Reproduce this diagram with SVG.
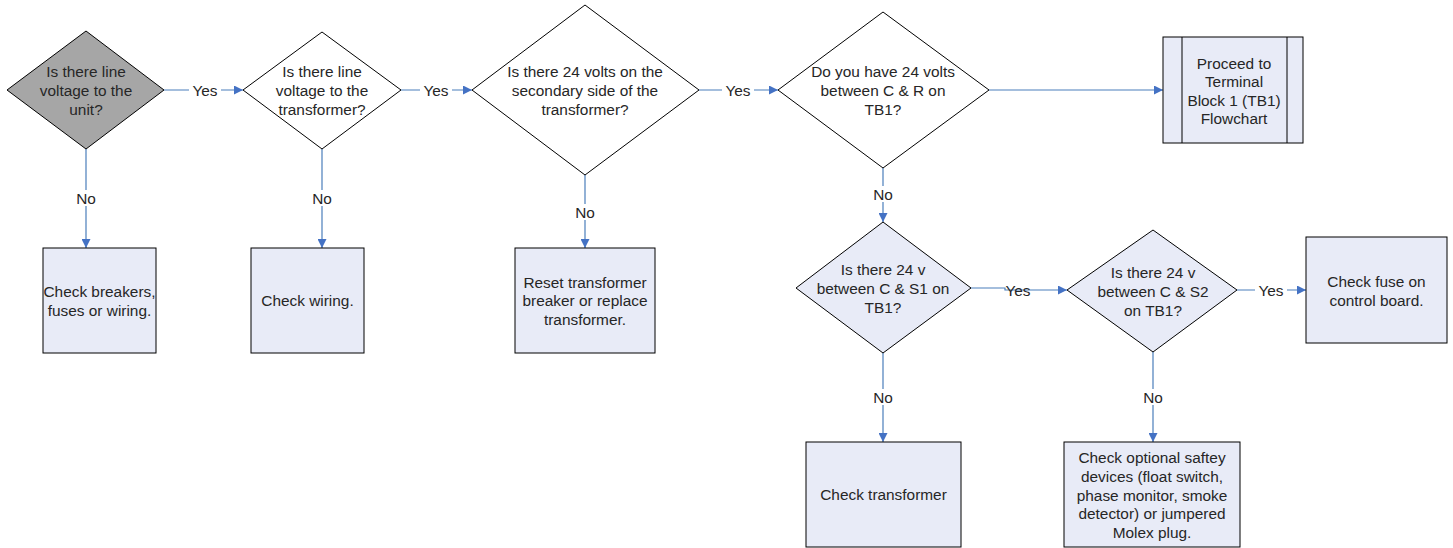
<svg xmlns="http://www.w3.org/2000/svg" width="1453" height="548" viewBox="0 0 1453 548">
<style>
.sh{stroke:#000;stroke-width:1}
.w{fill:#fff}.g{fill:#a6a6a6}.b{fill:#e8ebf7}
text{font-family:"Liberation Sans",Arial,sans-serif;font-size:15.4px;fill:#262626;text-anchor:middle;dominant-baseline:central}
.c{fill:none;stroke:#4a7ebb;stroke-width:1.2}
.lb{fill:#fff}
</style>
<defs>
<marker id="ah" viewBox="0 0 10 10" refX="10" refY="5" markerWidth="10" markerHeight="9" markerUnits="userSpaceOnUse" orient="auto">
<path d="M0,0 L10,5 L0,10 z" fill="#4472c4"/>
</marker>
</defs>
<g id="connectors">
<path class="c" d="M164,90 H243" marker-end="url(#ah)"/>
<path class="c" d="M401,90 H472" marker-end="url(#ah)"/>
<path class="c" d="M699,90 H778" marker-end="url(#ah)"/>
<path class="c" d="M989,90 H1163" marker-end="url(#ah)"/>
<path class="c" d="M86,149 V248" marker-end="url(#ah)"/>
<path class="c" d="M322,149 V248" marker-end="url(#ah)"/>
<path class="c" d="M585,175 V248" marker-end="url(#ah)"/>
<path class="c" d="M883,168 V222" marker-end="url(#ah)"/>
<path class="c" d="M971,288 H1005 V290 H1067" marker-end="url(#ah)"/>
<path class="c" d="M1237,290 H1306" marker-end="url(#ah)"/>
<path class="c" d="M883,353 V442" marker-end="url(#ah)"/>
<path class="c" d="M1153,352 V442" marker-end="url(#ah)"/>
<rect class="lb" x="189" y="82" width="32" height="16"/><text x="205" y="90">Yes</text>
<rect class="lb" x="420" y="82" width="32" height="16"/><text x="436" y="90">Yes</text>
<rect class="lb" x="722" y="82" width="32" height="16"/><text x="738" y="90">Yes</text>
<text x="1018" y="290">Yes</text>
<rect class="lb" x="1255" y="282" width="32" height="16"/><text x="1271" y="290">Yes</text>
<rect class="lb" x="75" y="190" width="22" height="16"/><text x="86" y="198">No</text>
<rect class="lb" x="311" y="190" width="22" height="16"/><text x="322" y="198">No</text>
<rect class="lb" x="574" y="204" width="22" height="16"/><text x="585" y="212">No</text>
<rect class="lb" x="872" y="186" width="22" height="16"/><text x="883" y="194">No</text>
<rect class="lb" x="872" y="389" width="22" height="16"/><text x="883" y="397">No</text>
<rect class="lb" x="1142" y="389" width="22" height="16"/><text x="1153" y="397">No</text>
</g>
<g id="d1">
<polygon class="sh g" points="86,31 164,90 86,149 7,90"/>
<text x="86" y="71">Is there line</text><text x="86" y="90">voltage to the</text><text x="86" y="109">unit?</text>
</g>
<g id="d2">
<polygon class="sh w" points="322,32 401,90 322,149 243,90"/>
<text x="322" y="71">Is there line</text><text x="322" y="90">voltage to the</text><text x="322" y="109">transformer?</text>
</g>
<g id="d3">
<polygon class="sh w" points="585,5 699,90 585,175 472,90"/>
<text x="585" y="71">Is there 24 volts on the</text><text x="585" y="90">secondary side of the</text><text x="585" y="109">transformer?</text>
</g>
<g id="d4">
<polygon class="sh w" points="883,12 989,90 883,168 778,90"/>
<text x="883" y="71">Do you have 24 volts</text><text x="883" y="90">between C &amp; R on</text><text x="883" y="109">TB1?</text>
</g>
<g id="p1">
<rect class="sh b" x="1163" y="37" width="140" height="106"/>
<line class="sh" x1="1182" y1="37" x2="1182" y2="143"/>
<line class="sh" x1="1287" y1="37" x2="1287" y2="143"/>
<text x="1234" y="63">Proceed to</text><text x="1234" y="81.5">Terminal</text><text x="1234" y="100">Block 1 (TB1)</text><text x="1234" y="118.5">Flowchart</text>
</g>
<g id="b1">
<rect class="sh b" x="43" y="248" width="113" height="105"/>
<text x="99.5" y="291">Check breakers,</text><text x="99.5" y="310">fuses or wiring.</text>
</g>
<g id="b2">
<rect class="sh b" x="251" y="248" width="113" height="105"/>
<text x="307.5" y="300">Check wiring.</text>
</g>
<g id="b3">
<rect class="sh b" x="515" y="248" width="140" height="105"/>
<text x="585" y="282">Reset transformer</text><text x="585" y="300">breaker or replace</text><text x="585" y="319">transformer.</text>
</g>
<g id="d5">
<polygon class="sh b" points="883,222 971,288 883,353 796,288"/>
<text x="883" y="269">Is there 24 v</text><text x="883" y="288">between C &amp; S1 on</text><text x="883" y="307">TB1?</text>
</g>
<g id="d6">
<polygon class="sh b" points="1153,230 1237,290 1153,352 1067,290"/>
<text x="1153" y="272">Is there 24 v</text><text x="1153" y="291">between C &amp; S2</text><text x="1153" y="310">on TB1?</text>
</g>
<g id="b4">
<rect class="sh b" x="1306" y="237" width="141" height="106"/>
<text x="1376.5" y="281">Check fuse on</text><text x="1376.5" y="300">control board.</text>
</g>
<g id="b5">
<rect class="sh b" x="806" y="442" width="155" height="105"/>
<text x="883.5" y="494">Check transformer</text>
</g>
<g id="b6">
<rect class="sh b" x="1064" y="442" width="176" height="105"/>
<text x="1152" y="457">Check optional saftey</text><text x="1152" y="476">devices (float switch,</text><text x="1152" y="495">phase monitor, smoke</text><text x="1152" y="513.5">detector) or jumpered</text><text x="1152" y="532">Molex plug.</text>
</g>
</svg>
